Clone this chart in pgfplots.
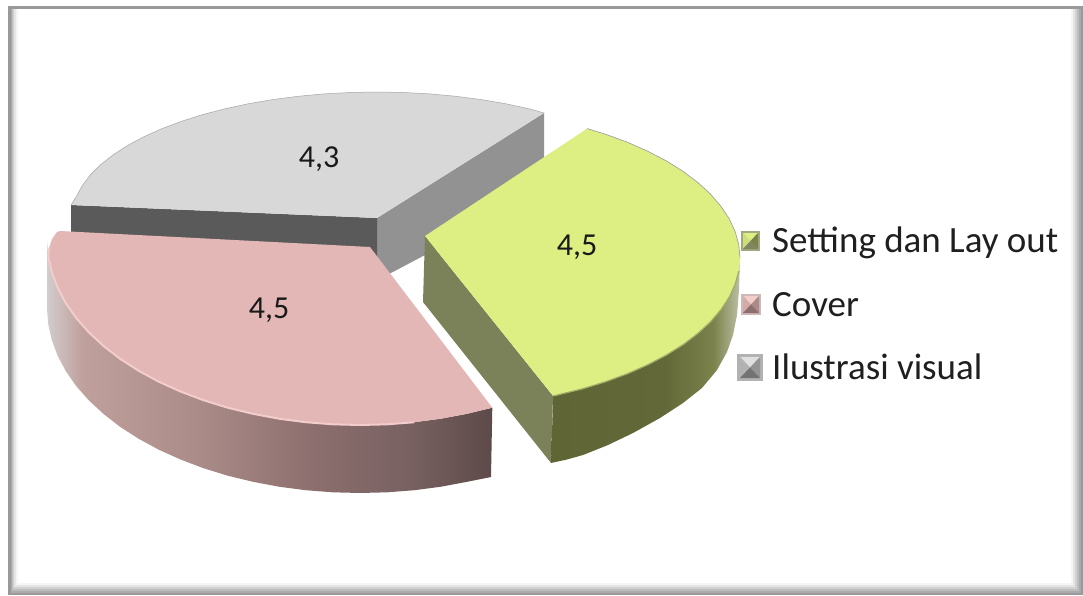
\documentclass[border=0pt]{standalone}
\usepackage{fontspec}
\setmainfont{Carlito}
\usepackage{pgfplots}
\pgfplotsset{compat=1.18}
\definecolor{pktop}{HTML}{E3B7B6}
\definecolor{pkhi}{HTML}{F3CDCC}
\definecolor{grtop}{HTML}{DDEE82}
\definecolor{gytop}{HTML}{D8D8D8}
\definecolor{gyface}{HTML}{929292}
\definecolor{gydark}{HTML}{5A5A5A}
\definecolor{olside}{HTML}{7B8158}
\definecolor{pa}{HTML}{D2CCCC}
\definecolor{pb}{HTML}{BFA09D}
\definecolor{pc}{HTML}{AA8B88}
\definecolor{pd}{HTML}{8C6E6E}
\definecolor{pe}{HTML}{7A6262}
\definecolor{pf}{HTML}{5E4A4A}
\definecolor{ga}{HTML}{5F6534}
\definecolor{gb}{HTML}{626838}
\definecolor{gc}{HTML}{7C824C}
\definecolor{gd}{HTML}{BCC0A4}
\pgfdeclarehorizontalshading{pinkside}{100bp}{color(0bp)=(pa); color(25bp)=(pa); color(29bp)=(pb); color(42bp)=(pc); color(55bp)=(pd); color(65bp)=(pe); color(75bp)=(pf); color(100bp)=(pf)}
\pgfdeclarehorizontalshading{greenside}{100bp}{color(0bp)=(ga); color(25bp)=(ga); color(55bp)=(gb); color(68bp)=(gc); color(75bp)=(gd); color(100bp)=(gd)}
\newcommand{\legtext}[3]{\node[anchor=west,inner sep=0pt,text=black!88] at (axis cs:#1,#2) {\fontsize{37}{37}\selectfont #3};}
\begin{document}
\begin{tikzpicture}
\begin{axis}[scale only axis,width=1083pt,height=596pt,xmin=0,xmax=1083,ymin=0,ymax=596,y dir=reverse,hide axis,clip=false]
% frame
\addplot[draw=none,fill=white] coordinates {(0,0)(1083,0)(1083,596)(0,596)};
\addplot[draw=none,fill=black!40] coordinates {(8,6)(1083,6)(1083,595)(8,595)};
\addplot[draw=none,fill=black!33] coordinates {(11,9)(1081,9)(1081,593)(11,593)};
\addplot[draw=none,fill=black!26] coordinates {(12,9)(1079,9)(1079,591)(12,591)};
\addplot[draw=none,fill=black!18] coordinates {(13,9)(1077,9)(1077,589)(13,589)};
\addplot[draw=none,fill=black!10] coordinates {(14,9)(1075,9)(1075,587)(14,587)};
\addplot[draw=none,fill=black!4] coordinates {(16,9)(1073,9)(1073,585)(16,585)};
\addplot[draw=none,fill=white] coordinates {(18,9)(1071,9)(1071,583)(18,583)};
% grey slice
\addplot[draw=none,fill=gyface] coordinates {(377,218)(544,113)(544,192)(391,273)(377,281)};
\addplot[draw=none,fill=gydark] coordinates {(71,205)(377,218)(377,262)(71,250)};
\addplot[draw=none,fill=gytop] coordinates {(377,218)(544,113)(529.5,108.9)(505.9,103.8)(481.3,99.6)(456,96.3)(430,93.9)(403.6,92.5)(377,92)(350.4,92.5)(324,93.9)(298,96.3)(272.7,99.6)(248.1,103.8)(224.5,108.9)(202,114.8)(180.9,121.5)(161.3,128.9)(143.4,137)(127.2,145.7)(112.9,155)(100.6,164.7)(90.3,174.9)(82.4,185.4)(76.6,196.1)(71,205)};
\addplot[black!35,line width=0.5pt] coordinates {(544,113)(529.5,108.9)(505.9,103.8)(481.3,99.6)(456,96.3)(430,93.9)(403.6,92.5)(377,92)(350.4,92.5)(324,93.9)(298,96.3)(272.7,99.6)(248.1,103.8)(224.5,108.9)(202,114.8)(180.9,121.5)(161.3,128.9)(143.4,137)(127.2,145.7)(112.9,155)(100.6,164.7)(90.3,174.9)(82.4,185.4)(76.6,196.1)(71,205)};
% pink slice
\addplot[draw=none,shade,shading=pinkside] coordinates {(492.3,407.7)(467,413.8)(441,418.7)(414.4,422.2)(387.3,424.3)(360,425)(332.7,424.3)(305.6,422.2)(279,418.7)(253,413.8)(227.7,407.7)(203.5,400.2)(180.5,391.5)(158.8,381.7)(138.7,370.8)(120.2,358.9)(103.7,346.1)(89,332.5)(76.3,318.2)(65.9,303.3)(57.7,287.9)(51.8,272.2)(48.2,256.1)(47,240)(47,308)(48.2,324.1)(51.8,340.2)(57.7,355.9)(65.9,371.3)(76.3,386.2)(89,400.5)(103.7,414.1)(120.2,426.9)(138.7,438.8)(158.8,449.7)(180.5,459.5)(203.5,468.2)(227.7,475.7)(253,481.8)(279,486.7)(305.6,490.2)(332.7,492.3)(360,493)(387.3,492.3)(414.4,490.2)(441,486.7)(467,481.8)(491,477)};
\addplot[draw=none,fill=pktop] coordinates {(370,247)(492.3,407.7)(467,413.8)(441,418.7)(414.4,422.2)(387.3,424.3)(360,425)(332.7,424.3)(305.6,422.2)(279,418.7)(253,413.8)(227.7,407.7)(203.5,400.2)(180.5,391.5)(158.8,381.7)(138.7,370.8)(120.2,358.9)(103.7,346.1)(89,332.5)(76.3,318.2)(65.9,303.3)(57.7,287.9)(51.8,272.2)(48.2,256.1)(49,248)(52,239)(57,232)(60,231)};
\addplot[pkhi,line width=2pt] coordinates {(414.4,422.2)(387.3,424.3)(360,425)(332.7,424.3)(305.6,422.2)(279,418.7)(253,413.8)(227.7,407.7)(203.5,400.2)(180.5,391.5)(158.8,381.7)(138.7,370.8)(120.2,358.9)(103.7,346.1)(89,332.5)(76.3,318.2)(65.9,303.3)(57.7,287.9)(51.8,272.2)(48.2,256.1)(49,248)};
% green slice
\addplot[draw=none,fill=olside] coordinates {(425,236)(553,396)(551,463)(423,302)};
\addplot[draw=none,shade,shading=greenside] coordinates {(740,258)(738.8,271.1)(735.2,284.3)(729.3,297.1)(721,309.6)(710.5,321.9)(697.8,333.5)(683,344.7)(666.3,355.1)(647.7,364.8)(627.5,373.7)(605.7,381.7)(582.5,388.8)(553.2,396)(551,463)(567,459.5)(583,455)(608,445)(633,433)(660,418)(683,403)(702,388)(717,370)(727,352)(733,335)(737,315)(739,290)};
\addplot[draw=none,fill=grtop] coordinates {(425,236)(587.2,128.6)(605.7,134.3)(627.5,142.3)(647.7,151.2)(666.3,160.9)(683,171.3)(697.8,182.5)(710.5,194.1)(721,206.4)(729.3,218.9)(735.2,231.7)(738.8,244.9)(740,258)(738.8,271.1)(735.2,284.3)(729.3,297.1)(721,309.6)(710.5,321.9)(697.8,333.5)(683,344.7)(666.3,355.1)(647.7,364.8)(627.5,373.7)(605.7,381.7)(582.5,388.8)(553.2,396)};
\addplot[olside!60!grtop,line width=1.2pt] coordinates {(738.8,271.1)(735.2,284.3)(729.3,297.1)(721,309.6)(710.5,321.9)(697.8,333.5)(683,344.7)(666.3,355.1)(647.7,364.8)(627.5,373.7)(605.7,381.7)(582.5,388.8)(553.2,396)};
\addplot[black!40,line width=0.6pt] coordinates {(587.2,128.6)(605.7,134.3)(627.5,142.3)(647.7,151.2)(666.3,160.9)(683,171.3)(697.8,182.5)(710.5,194.1)(721,206.4)(729.3,218.9)(735.2,231.7)(738.8,244.9)(740,258)};
% legend keys
\addplot[draw=none,fill=gc!70!white] coordinates {(741,231)(760,231)(760,251)(741,251)};
\addplot[draw=none,fill=grtop] coordinates {(743,233)(758,233)(750.5,241)};
\addplot[draw=none,fill=grtop!85!gc] coordinates {(743,233)(743,249)(750.5,241)};
\addplot[draw=none,fill=gc] coordinates {(758,233)(758,249)(750.5,241)};
\addplot[draw=none,fill=gb!80!white] coordinates {(743,249)(758,249)(750.5,241)};
\addplot[draw=none,fill=pc!60!white] coordinates {(741,294)(761,294)(761,315)(741,315)};
\addplot[draw=none,fill=pkhi] coordinates {(743,296)(759,296)(751,304.5)};
\addplot[draw=none,fill=pktop!70!pc] coordinates {(743,296)(743,313)(751,304.5)};
\addplot[draw=none,fill=pc] coordinates {(759,296)(759,313)(751,304.5)};
\addplot[draw=none,fill=pd] coordinates {(743,313)(759,313)(751,304.5)};
\addplot[draw=none,fill=black!30] coordinates {(737,354)(763,354)(763,381)(737,381)};
\addplot[draw=none,fill=black!12] coordinates {(740,357)(760,357)(750,367.5)};
\addplot[draw=none,fill=black!30] coordinates {(740,357)(740,378)(750,367.5)};
\addplot[draw=none,fill=black!42] coordinates {(760,357)(760,378)(750,367.5)};
\addplot[draw=none,fill=black!55] coordinates {(740,378)(760,378)(750,367.5)};
% texts
\legtext{772}{243}{Setting dan Lay out}
\legtext{772}{305}{Cover}
\legtext{772}{367}{Ilustrasi visual}
\node[inner sep=0pt,text=black!90] at (axis cs:319,159) {\fontsize{32}{32}\selectfont 4,3};
\node[inner sep=0pt,text=black!90] at (axis cs:269,310) {\fontsize{32}{32}\selectfont 4,5};
\node[inner sep=0pt,text=black!90] at (axis cs:577,247) {\fontsize{32}{32}\selectfont 4,5};
\end{axis}
\end{tikzpicture}
\end{document}
